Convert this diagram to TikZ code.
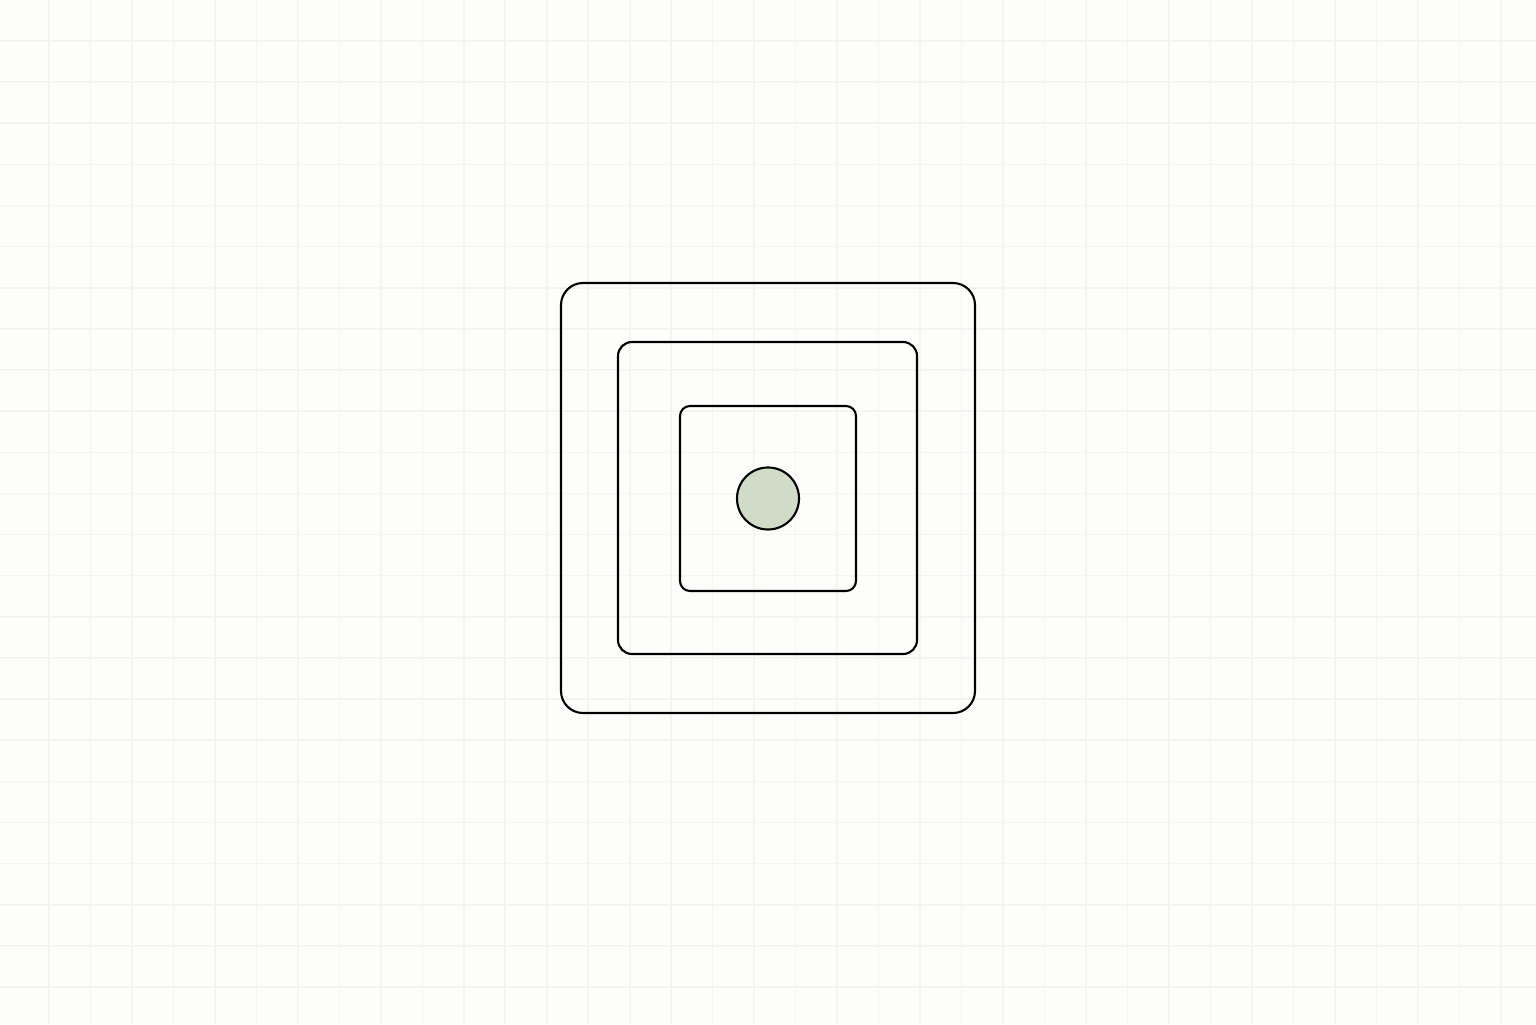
\documentclass[tikz,border=0pt]{standalone}
\usetikzlibrary{positioning}
\definecolor{papier}{HTML}{FDFDFC}
\definecolor{raster}{HTML}{F5F4F1}
\definecolor{kern}{HTML}{D0DCC8}
\begin{document}
\begin{tikzpicture}[
    kader/.style={draw=black, line width=0.6pt, rectangle, inner sep=0pt}
  ]
  % achtergrond
  \fill[papier] (0,0) rectangle (15.36,10.24);
  \useasboundingbox (0,0) rectangle (15.36,10.24);

  % raster
  \foreach \i in {0,...,35}
    \draw[raster, line width=0.45pt] ({0.49+0.4148*\i},0) -- ({0.49+0.4148*\i},10.24);
  \foreach \j in {0,...,23}
    \draw[raster, line width=0.45pt] (0,{9.83-0.4113*\j}) -- (15.36,{9.83-0.4113*\j});

  % kaders
  \node[kader, rounded corners=0.22cm, minimum width=4.14cm, minimum height=4.30cm]
    (buiten) at (7.68,5.26) {};
  \node[kader, rounded corners=0.14cm, minimum width=2.99cm, minimum height=3.12cm]
    (midden) at (7.675,5.26) {};
  \node[kader, rounded corners=0.1cm, minimum width=1.76cm, minimum height=1.85cm]
    (binnen) at (7.68,5.255) {};

  % kern
  \node[draw=black, fill=kern, line width=0.6pt, circle, inner sep=0pt,
    minimum size=0.62cm] (kern) at (binnen.center) {};
\end{tikzpicture}
\end{document}
